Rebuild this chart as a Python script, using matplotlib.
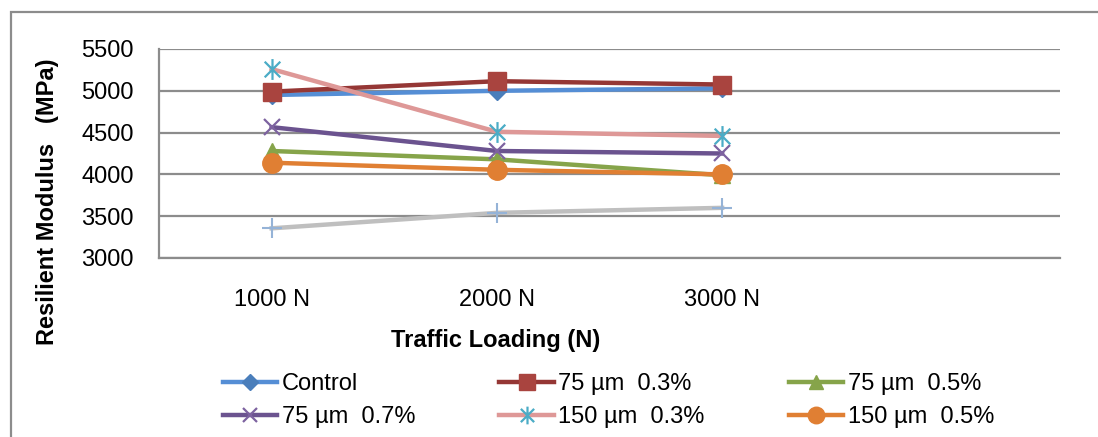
import matplotlib
matplotlib.use("Agg")
from matplotlib import pyplot as plt
from matplotlib.path import Path
from matplotlib.patches import Rectangle
import numpy as np

plt.rcParams['font.family'] = ['Liberation Sans', 'DejaVu Sans']

loads = ['1000 N', '2000 N', '3000 N', '']

control = [4950, 5000, 5030]
um75_03 = [4990, 5115, 5075]
um75_05 = [4280, 4180, 3990]
um75_07 = [4565, 4280, 4250]
um150_03 = [5260, 4510, 4460]
um150_05 = [4140, 4055, 4000]
um150_07 = [3355, 3540, 3600]

# six-spoke asterisk: vertical bar plus an X
star = Path([(0, -1), (0, 1), (-0.75, -0.75), (0.75, 0.75), (-0.75, 0.75), (0.75, -0.75)],
            [Path.MOVETO, Path.LINETO, Path.MOVETO, Path.LINETO, Path.MOVETO, Path.LINETO])

fig = plt.figure(figsize=(10.98, 4.37), dpi=100)
ax = fig.add_axes([159/1098, 1-258/437, (1060-159)/1098, (258-49)/437])

x = np.arange(3)
lw = 3.2
h = {}
h['c'], = ax.plot(x, control, color='#558ED5', lw=lw, marker='D', ms=9,
                  mfc='#4A7EBB', mec='#4A7EBB', label='Control')
h['a'], = ax.plot(x, um75_03, color='#953735', lw=lw, marker='s', ms=13,
                  mfc='#A9443F', mec='#A9443F', label='75 µm  0.3%')
h['b'], = ax.plot(x, um75_05, color='#86A44A', lw=lw, marker='^', ms=12,
                  mfc='#86A44A', mec='#86A44A', label='75 µm  0.5%')
h['d'], = ax.plot(x, um75_07, color='#6B538F', lw=lw, marker='x', ms=12, mew=1.6,
                  mec='#7D62A0', label='75 µm  0.7%')
h['e'], = ax.plot(x, um150_03, color='#DE9897', lw=lw, marker=star, ms=15, mew=1.6,
                  mec='#4BACC6', label='150 µm  0.3%')
h['f'], = ax.plot(x, um150_05, color='#E07F33', lw=lw, marker='o', ms=14,
                  mfc='#E07F33', mec='#E07F33', label='150 µm  0.5%')
ax.plot(x, um150_07, color='#BFBFBF', lw=lw, marker='+', ms=14, mew=1.5,
        mec='#95B3D7')

ax.set_xlim(-0.5, 3.5)
ax.set_ylim(3000, 5500)
ax.set_yticks(np.arange(3000, 5501, 500))
ax.set_xticks(np.arange(4))
ax.set_xticklabels(loads)
ax.tick_params(length=0, labelsize=17)
ax.tick_params(axis='y', pad=18)
ax.tick_params(axis='x', pad=22)
ax.grid(axis='y', color='#8C8C8C', lw=1.6)
ax.set_axisbelow(True)
for s in ['top', 'right']:
    ax.spines[s].set_visible(False)
for s in ['left', 'bottom']:
    ax.spines[s].set_color('#8C8C8C')
    ax.spines[s].set_linewidth(1.6)

fig.text(496/1098, 1-340/437, 'Traffic Loading (N)', fontsize=17, fontweight='bold',
         ha='center', va='center')
fig.text(48/1098, 1-202/437, 'Resilient Modulus   (MPa)', fontsize=17, fontweight='bold',
         rotation=90, ha='center', va='center')

order = ['c', 'd', 'a', 'e', 'b', 'f']
fig.legend([h[k] for k in order], [h[k].get_label() for k in order], ncol=3,
           loc='upper left', bbox_to_anchor=(223/1098, 1-373/437), frameon=False,
           fontsize=17, handlelength=2.3, handletextpad=0.2, columnspacing=3.55,
           labelspacing=0.48, borderpad=0, borderaxespad=0, markerscale=0.85)

fig.patches.append(Rectangle((11/1098, -0.2), 1.2, 1.2-12/437, transform=fig.transFigure,
                             fill=False, ec='#8C8C8C', lw=1.6))

fig.savefig('out.png', dpi=100)
